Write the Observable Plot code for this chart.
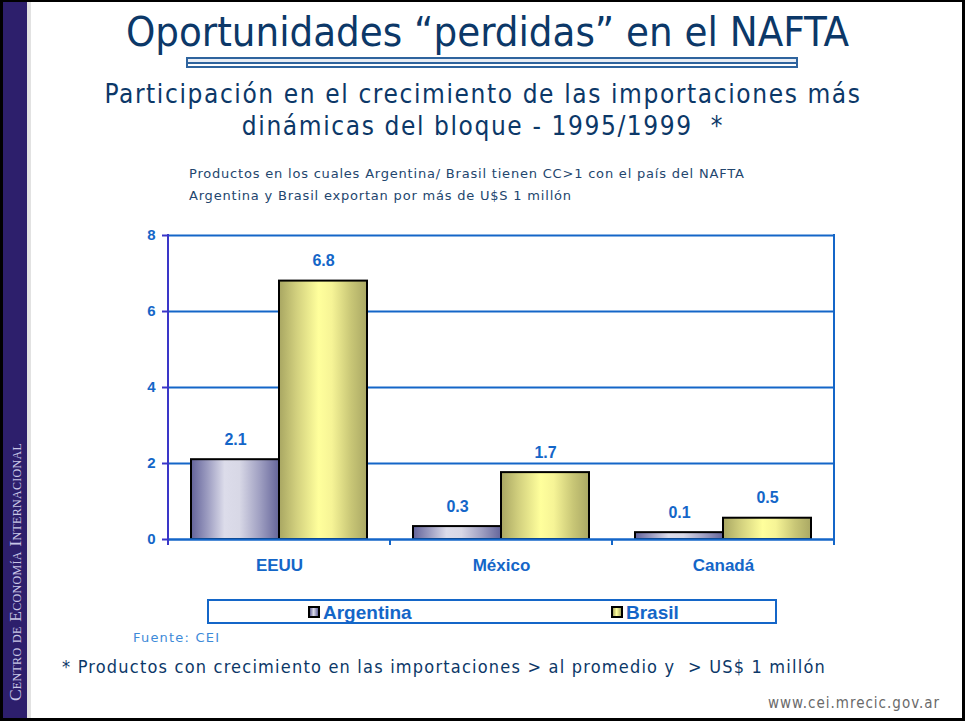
<!DOCTYPE html>
<html>
<head>
<meta charset="utf-8">
<script src="https://cdn.jsdelivr.net/npm/d3@7"></script>
<script src="https://cdn.jsdelivr.net/npm/@observablehq/plot@0.6"></script>
<style>
  html, body { margin: 0; padding: 0; background: #fff; }
  #page { position: relative; width: 965px; height: 721px; overflow: hidden; background: #fff; }
  .abs { position: absolute; white-space: nowrap; }
  .cond { font-family: "DejaVu Sans Condensed", "DejaVu Sans", sans-serif; font-stretch: condensed; }
  #title { left: 0; width: 975px; top: 7px; text-align: center; font-size: 41.5px; color: #0c3868; }
  #sub1, #sub2 { left: 0; width: 966px; text-align: center; font-size: 26px; letter-spacing: 1.6px; color: #0c3868; }
  #sub1 { top: 79px; } #sub2 { top: 111px; }
  .note { left: 189px; font-family: "DejaVu Sans", sans-serif; font-size: 13px; letter-spacing: 0.8px; color: #23466e; }
  #legend { left: 207px; top: 599px; width: 566px; height: 21px; border: 2px solid #1466c8; overflow: hidden; }
  .lg { position: absolute; top: 1px; font-family: "Liberation Sans", Arial, sans-serif; font-weight: bold; font-size: 19px; color: #1466c8; }
  .sw { display: inline-block; width: 8px; height: 8px; border: 2px solid #000; margin-right: 3px; vertical-align: 1px; }
</style>
</head>
<body>
<div id="page">
  <!-- frame and sidebar -->
  <div class="abs" style="left:0;top:0;width:965px;height:2px;background:#000"></div>
  <div class="abs" style="left:0;top:718px;width:965px;height:3px;background:#000"></div>
  <div class="abs" style="left:962px;top:0;width:3px;height:721px;background:#000"></div>
  <div class="abs" style="left:0;top:0;width:3px;height:721px;background:#000"></div>
  <div class="abs" style="left:3px;top:2px;width:24px;height:716px;background:#2d1f6c"></div>
  <div class="abs" style="left:27px;top:2px;width:4px;height:716px;background:#e2e2e2"></div>
  <div class="abs" style="left:15px;top:572px;transform:translate(-50%,-50%) rotate(-90deg);font-family:'Liberation Serif','DejaVu Serif',serif;font-variant:small-caps;font-size:17.5px;color:#c9c6e6;letter-spacing:0.3px">Centro de Economía Internacional</div>

  <div id="title" class="abs cond">Oportunidades “perdidas” en el NAFTA</div>
  <div class="abs" style="left:186px;top:57px;width:608px;height:7px;border:2px solid #2f649e;background:linear-gradient(to bottom,#e9eef6 0,#e9eef6 3px,#2f649e 3px,#2f649e 5px,#ffffff 5px)"></div>
  <div id="sub1" class="abs cond">Participación en el crecimiento de las importaciones más</div>
  <div id="sub2" class="abs cond">dinámicas del bloque - 1995/1999 &nbsp;*</div>
  <div class="abs note" style="top:166px">Productos en los cuales Argentina/ Brasil tienen CC&gt;1 con el país del NAFTA</div>
  <div class="abs note" style="top:188px">Argentina y Brasil exportan por más de U$S 1 millón</div>

  <div id="chart" class="abs" style="left:120px;top:222px"></div>

  <div id="legend" class="abs"></div>

  <div class="abs" style="left:133px;top:630px;font-family:'DejaVu Sans',sans-serif;font-size:13px;letter-spacing:1.2px;color:#3d8ad8">Fuente: CEI</div>
  <div class="abs cond" style="left:62px;top:656px;font-size:18px;letter-spacing:1.2px;color:#0c3868">* Productos con crecimiento en las importaciones &gt; al promedio y &nbsp;&gt; US$ 1 millón</div>
  <div class="abs cond" style="left:768px;top:694px;font-size:15px;letter-spacing:1px;color:#6a6a6a">www.cei.mrecic.gov.ar</div>
</div>
<script>
// ---- data ----
const countries = ["EEUU", "México", "Canadá"];
const series = ["Argentina", "Brasil"];
const argentina = [2.1, 0.34, 0.18];
const brasil = [6.8, 1.76, 0.56];
const argentinaLabels = ["2.1", "0.3", "0.1"];
const brasilLabels = ["6.8", "1.7", "0.5"];
const yTicks = [0, 2, 4, 6, 8];

const rows = countries.flatMap((c, i) => [
  {country: c, series: "Argentina", value: argentina[i], label: argentinaLabels[i]},
  {country: c, series: "Brasil", value: brasil[i], label: brasilLabels[i]}
]);

const BLUE = "#1466c8";
const AXIS = "#3a36c8";

const chart = Plot.plot({
  width: 730,
  height: 358,
  marginLeft: 47,
  marginRight: 16,
  marginTop: 13,
  marginBottom: 41,
  style: {fontFamily: "'Liberation Sans', Arial, sans-serif", fontSize: "15px", background: "transparent", overflow: "visible"},
  fx: {domain: countries, padding: 0, label: null},
  x: {domain: series, paddingInner: 0, paddingOuter: 0.255, axis: null},
  y: {domain: [0, 8], label: null},
  marks: [
    Plot.ruleY(yTicks.slice(1), {stroke: BLUE, strokeWidth: 2}),
    Plot.barY(rows.filter(d => d.series === "Argentina"), {fx: "country", x: "series", y: "value", fill: "url(#gArg)", stroke: "#000", strokeWidth: 2}),
    Plot.barY(rows.filter(d => d.series === "Brasil"), {fx: "country", x: "series", y: "value", fill: "url(#gBra)", stroke: "#000", strokeWidth: 2}),
    Plot.text(rows, {fx: "country", x: "series", y: "value", text: "label", dy: -20, fill: BLUE, fontWeight: "bold", fontSize: 16}),
    Plot.ruleY([0], {stroke: BLUE, strokeWidth: 2.5}),
    Plot.axisY({ticks: yTicks, tickSize: 6, tickPadding: 7, stroke: AXIS, strokeWidth: 2, fill: BLUE, fontWeight: "bold", fontSize: 15, tickFormat: d => String(d), label: null}),
    Plot.axisFx({anchor: "bottom", tickSize: 0, tickPadding: 19, fill: BLUE, fontWeight: "bold", fontSize: 17, label: null})
  ]
});

// gradients
const svg = d3.select(chart);
const defs = svg.insert("defs", ":first-child");
const gA = defs.append("linearGradient").attr("id", "gArg").attr("x1", 0).attr("x2", 1).attr("y1", 0).attr("y2", 0);
[[0, "#63639a"], [0.18, "#9a9abf"], [0.38, "#dcdcea"], [0.55, "#d8d8e6"], [0.78, "#a0a0c2"], [1, "#65659a"]]
  .forEach(([o, c]) => gA.append("stop").attr("offset", o).attr("stop-color", c));
const gB = defs.append("linearGradient").attr("id", "gBra").attr("x1", 0).attr("x2", 1).attr("y1", 0).attr("y2", 0);
[[0, "#a8a662"], [0.2, "#d2d07e"], [0.45, "#ffff9c"], [0.6, "#f6f496"], [0.82, "#c8c676"], [1, "#aaa864"]]
  .forEach(([o, c]) => gB.append("stop").attr("offset", o).attr("stop-color", c));

// frame decoration from the chart's own scales: left axis line, right border, group boundary ticks
const fxS = chart.scale("fx");
const yS = chart.scale("y");
const bw = fxS.bandwidth;
const xLeft = fxS.apply(countries[0]);
const xRight = fxS.apply(countries[countries.length - 1]) + bw;
const yTop = yS.apply(yTicks[yTicks.length - 1]);
const yBot = yS.apply(0);
const deco = svg.append("g");
deco.append("line").attr("x1", xLeft).attr("x2", xLeft).attr("y1", yTop - 1).attr("y2", yBot + 6)
  .attr("stroke", AXIS).attr("stroke-width", 2);
deco.append("line").attr("x1", xRight).attr("x2", xRight).attr("y1", yTop - 1).attr("y2", yBot + 6)
  .attr("stroke", BLUE).attr("stroke-width", 2);
countries.slice(0, -1).forEach(c => {
  const b = fxS.apply(c) + bw;
  deco.append("line").attr("x1", b).attr("x2", b).attr("y1", yBot).attr("y2", yBot + 6)
    .attr("stroke", BLUE).attr("stroke-width", 2);
});

document.getElementById("chart").appendChild(chart);

// legend
const legend = document.getElementById("legend");
const swatchCss = {
  Argentina: "linear-gradient(to right,#63639a,#dcdcea 45%,#63639a)",
  Brasil: "linear-gradient(to right,#a8a662,#ffff9c 45%,#aaa864)"
};
const legendLeft = {Argentina: 99, Brasil: 402};
series.forEach(s => {
  const item = document.createElement("div");
  item.className = "lg";
  item.style.left = legendLeft[s] + "px";
  item.innerHTML = `<span class="sw" style="background:${swatchCss[s]}"></span>${s}`;
  legend.appendChild(item);
});
</script>
</body>
</html>
